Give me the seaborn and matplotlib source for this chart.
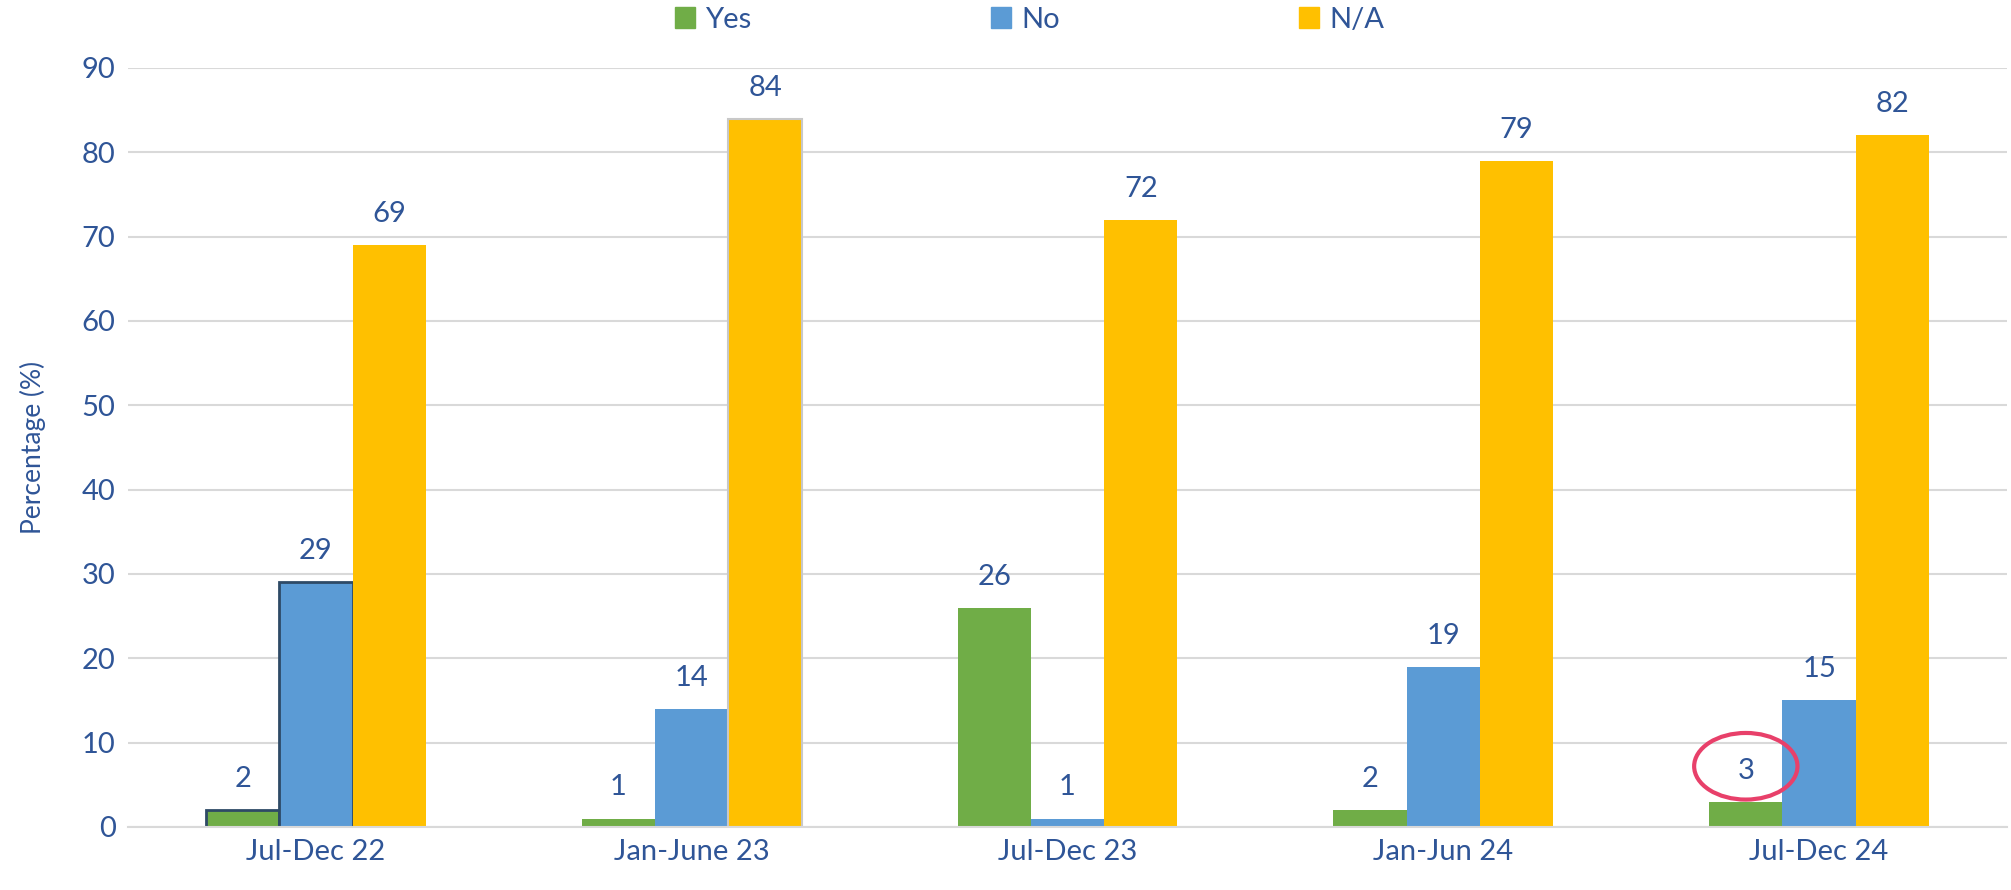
import pandas as pd
import matplotlib.pyplot as plt
import seaborn as sns
from matplotlib.patches import Ellipse, Patch

# Data
periods = ["Jul-Dec 22", "Jan-June 23", "Jul-Dec 23", "Jan-Jun 24", "Jul-Dec 24"]
answers = ["Yes", "No", "N/A"]
yes_vals = [2, 1, 26, 2, 3]
no_vals = [29, 14, 1, 19, 15]
na_vals = [69, 84, 72, 79, 82]

colors = {"Yes": "#70AD47", "No": "#5B9BD5", "N/A": "#FFC000"}
text_color = "#2F5597"

df = pd.DataFrame({
    "Period": periods * 3,
    "Answer": ["Yes"] * 5 + ["No"] * 5 + ["N/A"] * 5,
    "Value": yes_vals + no_vals + na_vals,
})

sns.set_style("white")
plt.rcParams["font.family"] = ["Lato", "DejaVu Sans"]

fig = plt.figure(figsize=(20.11, 8.9), dpi=100)
ax = fig.add_axes([0.0637, 0.0708, 0.9343, 0.8528])

sns.barplot(data=df, x="Period", y="Value", hue="Answer", hue_order=answers,
            order=periods, palette=colors, width=0.585, saturation=1,
            linewidth=0, ax=ax, legend=False)

ax.set_ylim(0, 90)
ax.set_xlim(-0.5, len(periods) - 0.5)
ax.set_yticks(range(0, 91, 10))
ax.grid(axis="y", color="#D9D9D9", linewidth=1.5)
ax.set_axisbelow(True)
for s in ["top", "right", "left"]:
    ax.spines[s].set_visible(False)
ax.spines["bottom"].set_color("#D9D9D9")
ax.spines["bottom"].set_linewidth(1.5)
ax.tick_params(axis="both", length=0, labelsize=21, labelcolor=text_color, pad=9)
ax.set_xlabel("")
ax.set_ylabel("Percentage (%)", fontsize=19, color=text_color, labelpad=26)

for cont in ax.containers:
    ax.bar_label(cont, padding=13, fontsize=21, color=text_color)

# bevel-like edge on first group's Yes and No bars
for cont in ax.containers[:2]:
    bar = cont.patches[0]
    bar.set_edgecolor("#2E4A66")
    bar.set_linewidth(2)

# soft shadow edge on the tallest N/A bar
ax.containers[2].patches[1].set_edgecolor("#C8C8C8")
ax.containers[2].patches[1].set_linewidth(1.5)

# red circle around last Yes label
n = len(periods)
yes_bar = ax.containers[0].patches[n - 1]
cx = yes_bar.get_x() + yes_bar.get_width() / 2
cy = yes_vals[-1] + 4.2
ax.add_patch(Ellipse((cx, cy), 0.275, 7.9, fill=False, edgecolor="#E8406A",
                     linewidth=3, zorder=5, clip_on=False))

handles = [Patch(color=colors[a], label=a) for a in answers]
fig.legend(handles=handles, loc="center", bbox_to_anchor=(0.512, 0.978), ncol=3,
           frameon=False, fontsize=21, labelcolor=text_color, handlelength=0.7,
           handleheight=0.7, handletextpad=0.35, columnspacing=8.2)

fig.savefig("out.png", dpi=100)
